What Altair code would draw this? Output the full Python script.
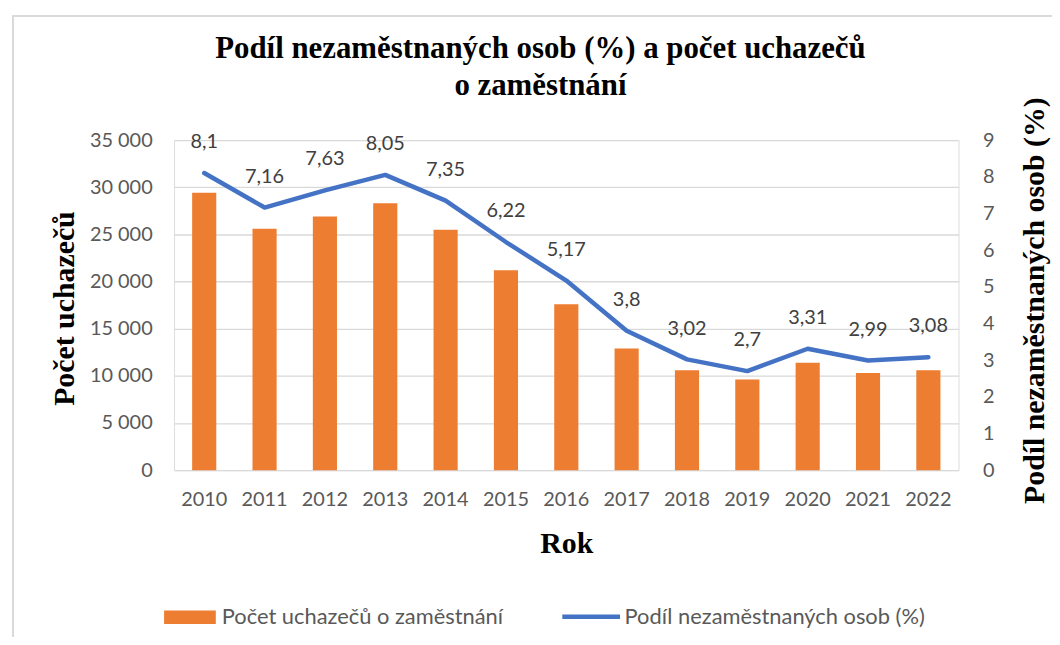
import altair as alt
import pandas as pd

roky = ["2010", "2011", "2012", "2013", "2014", "2015", "2016",
        "2017", "2018", "2019", "2020", "2021", "2022"]
uchazeci = [29400, 25600, 26900, 28300, 25500, 21200, 17600,
            12900, 10600, 9600, 11400, 10300, 10600]
podil = [8.1, 7.16, 7.63, 8.05, 7.35, 6.22, 5.17, 3.8, 3.02, 2.7, 3.31, 2.99, 3.08]

serie_bar = "Počet uchazečů o zaměstnání"
serie_line = "Podíl nezaměstnaných osob (%)"

df = pd.DataFrame({"rok": roky, "uchazeci": uchazeci, "podil": podil,
                   "s_bar": serie_bar, "s_line": serie_line})

SANS = "Lato"
SERIF = "Liberation Serif"
GRAY = "#595959"
TICK_FS = 20
TITLE_FS = 30
LEG_FS = 22

x_enc = alt.X("rok:N", sort=roky,
              scale=alt.Scale(paddingInner=0.6, paddingOuter=0.3),
              axis=alt.Axis(title="Rok", labelAngle=0, labelFont=SANS, labelFontSize=TICK_FS,
                            labelColor=GRAY, labelPadding=20, domain=False, ticks=False,
                            grid=False, titleFont=SERIF, titleFontSize=TITLE_FS,
                            titleFontWeight="bold", titleColor="black",
                            titleBaseline="alphabetic", titleY=83))

bars = alt.Chart(df).mark_bar(color="#ED7D31").encode(
    x=x_enc,
    y=alt.Y("uchazeci:Q",
            scale=alt.Scale(domain=[0, 35000], nice=False),
            axis=alt.Axis(title="Počet uchazečů", orient="left",
                          values=[0, 5000, 10000, 15000, 20000, 25000, 30000, 35000],
                          labelExpr="replace(format(datum.value, ','), ',', ' ')",
                          labelFont=SANS, labelFontSize=TICK_FS, labelColor=GRAY,
                          labelPadding=22, domain=False, ticks=False,
                          grid=True, gridColor="#D9D9D9", gridWidth=1.3,
                          titleFont=SERIF, titleFontSize=TITLE_FS, titleFontWeight="bold",
                          titleColor="black", titleAngle=270, titleAlign="center",
                          titleBaseline="middle", titleX=-110, titleY=169)),
    fill=alt.Fill("s_bar:N", scale=alt.Scale(domain=[serie_bar], range=["#ED7D31"]),
                  legend=alt.Legend(orient="none", legendX=-10, legendY=454, title=None,
                                    symbolType="M-1,-0.26L1,-0.26L1,0.26L-1,0.26Z",
                                    symbolSize=2704, symbolStrokeWidth=0,
                                    labelFont=SANS, labelFontSize=LEG_FS, labelColor=GRAY,
                                    labelOffset=6, labelLimit=500, padding=0)),
)

y_rate = alt.Y("podil:Q", scale=alt.Scale(domain=[0, 9], nice=False),
               axis=alt.Axis(title="Podíl nezaměstnaných osob (%)", orient="right",
                             values=list(range(10)),
                             labelFont=SANS, labelFontSize=TICK_FS, labelColor=GRAY,
                             labelPadding=24, domain=False, ticks=False, grid=False,
                             titleFont=SERIF, titleFontSize=TITLE_FS, titleFontWeight="bold",
                             titleColor="black", titleAngle=270, titleAlign="center",
                             titleBaseline="middle", titleX=76, titleY=161))

line = alt.Chart(df).mark_line(strokeWidth=4.5, strokeCap="round", strokeJoin="round").encode(
    x=alt.X("rok:N", sort=roky),
    y=y_rate,
    stroke=alt.Stroke("s_line:N", scale=alt.Scale(domain=[serie_line], range=["#4472C4"]),
                      legend=alt.Legend(orient="none", legendX=388, legendY=448, title=None,
                                        symbolType="M-1,0L1,0", symbolSize=3364,
                                        symbolStrokeWidth=4.5, symbolFillColor="transparent",
                                        labelFont=SANS, labelFontSize=LEG_FS, labelColor=GRAY,
                                        labelOffset=2, labelLimit=500, padding=0)),
)

labels = alt.Chart(df).mark_text(dy=-31, baseline="middle", font=SANS, fontSize=TICK_FS,
                                 color="#404040").transform_calculate(
    popisek="replace(toString(datum.podil), '.', ',')"
).encode(
    x=alt.X("rok:N", sort=roky),
    y=y_rate,
    text="popisek:N",
)

frame_left = alt.Chart(df).mark_rule(color="#D9D9D9", strokeWidth=1.5).encode(
    x=alt.value(-162), y=alt.value(-125), y2=alt.value(506))
frame_top = alt.Chart(df).mark_rule(color="#D9D9D9", strokeWidth=1.5).encode(
    x=alt.value(-162), x2=alt.value(885), y=alt.value(-125))

left = alt.layer(frame_left, frame_top, bars)
right = alt.layer(line, labels)

chart = alt.layer(left, right).resolve_scale(y="independent").properties(
    width=789, height=332,
    autosize=alt.AutoSizeParams(type="none"),
    padding={"left": 167, "top": 131, "right": 94, "bottom": 166},
    title=alt.TitleParams(
        text=["Podíl nezaměstnaných osob (%) a počet uchazečů", "o zaměstnání"],
        font=SERIF, fontSize=31, fontWeight="bold", color="black",
        anchor="middle", frame="group", dx=-26, offset=0, dy=87, lineHeight=37),
).configure_view(stroke=None).configure(background="white")

chart.save("out.html", embed_options={"renderer": "svg", "actions": False})
